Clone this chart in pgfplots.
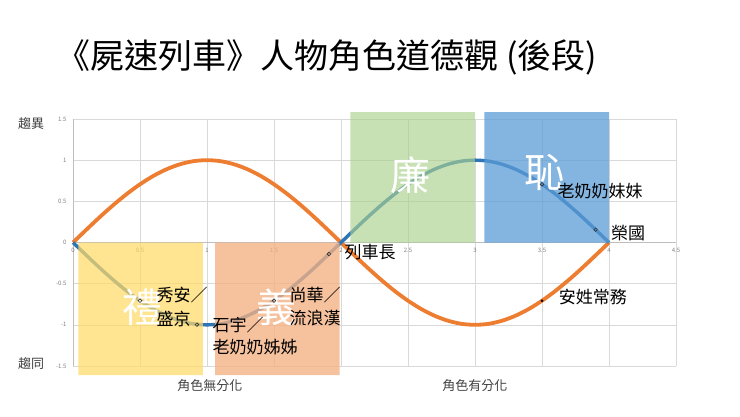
\documentclass[border=0pt]{standalone}
\usepackage{fontspec}
\setmainfont{Noto Sans CJK TC}
\usepackage{pgfplots}
\usepackage{pgfplotstable}
\pgfplotsset{compat=1.18}

\definecolor{lineorange}{HTML}{ED7D31}
\definecolor{lineblue}{HTML}{2E75B6}
\definecolor{boxyellow}{HTML}{FFD966}
\definecolor{boxorange}{HTML}{F4B183}
\definecolor{boxgreen}{HTML}{A9D18E}
\definecolor{boxblue}{HTML}{5B9BD5}
\definecolor{gridgray}{HTML}{D9D9D9}
\definecolor{textgray}{HTML}{404040}

% x, orange (道德觀), blue (角色)
\pgfplotstableread{
x    o       b
0.0  0.000   0.000
0.1  0.156  -0.156
0.2  0.309  -0.309
0.3  0.454  -0.454
0.4  0.588  -0.588
0.5  0.707  -0.707
0.6  0.809  -0.809
0.7  0.891  -0.891
0.8  0.951  -0.951
0.9  0.988  -0.988
1.0  1.000  -1.000
1.1  0.988  -0.988
1.2  0.951  -0.951
1.3  0.891  -0.891
1.4  0.809  -0.809
1.5  0.707  -0.707
1.6  0.588  -0.588
1.7  0.454  -0.454
1.8  0.309  -0.309
1.9  0.156  -0.156
2.0  0.000   0.000
2.1 -0.156   0.156
2.2 -0.309   0.309
2.3 -0.454   0.454
2.4 -0.588   0.588
2.5 -0.707   0.707
2.6 -0.809   0.809
2.7 -0.891   0.891
2.8 -0.951   0.951
2.9 -0.988   0.988
3.0 -1.000   1.000
3.1 -0.988   0.988
3.2 -0.951   0.951
3.3 -0.891   0.891
3.4 -0.809   0.809
3.5 -0.707   0.707
3.6 -0.588   0.588
3.7 -0.454   0.454
3.8 -0.309   0.309
3.9 -0.156   0.156
4.0  0.000   0.000
}\curves

\begin{document}
\begin{tikzpicture}
\begin{axis}[
    name=ax,
    scale only axis,
    width=603pt, height=247pt,
    xmin=0, xmax=4.5, ymin=-1.5, ymax=1.5,
    xtick={0,0.5,...,4.5}, ytick={-1.5,-1,...,1.5},
    axis x line=middle, axis y line=left,
    axis line style={-, draw=gridgray!70!gray, line width=0.6pt},
    hide obscured x ticks=false, hide obscured y ticks=false,
    major tick length=0pt,
    grid=major,
    major grid style={draw=gridgray, line width=0.6pt},
    /pgf/number format/assume math mode=true,
    tick label style={font=\fontsize{6}{7}\selectfont, text=gray},
    xticklabel style={anchor=north, yshift=-2pt},
    yticklabel style={anchor=east, xshift=-3pt},
    clip=false,
    every node/.style={inner sep=0pt},
]
% lines
\addplot[draw=lineorange, line width=3.8pt, smooth] table[x=x, y=o] {\curves};
\addplot[draw=lineblue, line width=3.4pt, smooth] table[x=x, y=b] {\curves};

% coloured blocks
\addplot[draw=none, fill=boxyellow, fill opacity=0.72] coordinates {(0.04,0) (0.97,0) (0.97,-1.61) (0.04,-1.61) (0.04,0)};
\addplot[draw=none, fill=boxorange, fill opacity=0.78] coordinates {(1.06,0) (1.99,0) (1.99,-1.61) (1.06,-1.61) (1.06,0)};
\addplot[draw=none, fill=boxgreen, fill opacity=0.65] coordinates {(2.07,0) (3.0,0) (3.0,1.585) (2.07,1.585) (2.07,0)};
\addplot[draw=none, fill=boxblue, fill opacity=0.75] coordinates {(3.07,0) (4.0,0) (4.0,1.585) (3.07,1.585) (3.07,0)};

% markers
\addplot[only marks, mark=o, mark size=1.8pt, mark options={draw=black!80, line width=0.6pt}] coordinates {(0.5,-0.707) (0.925,-0.997) (1.5,-0.707) (1.91,-0.14) (3.5,0.707) (3.9,0.156)};
\addplot[only marks, mark=*, mark size=1.1pt, black] coordinates {(3.5,-0.707)};

% big characters
\node[text=white, font=\fontsize{40}{44}\selectfont] at (axis cs:0.515,-0.79) {禮};
\node[text=white, font=\fontsize{40}{44}\selectfont] at (axis cs:1.52,-0.79) {義};
\node[text=white, font=\fontsize{40}{44}\selectfont] at (axis cs:2.52,0.814) {廉};
\node[text=white, font=\fontsize{40}{44}\selectfont] at (axis cs:3.52,0.85) {恥};

% character labels
\begin{scope}[every node/.append style={anchor=west, font=\fontsize{17}{19}\selectfont, text=black}]
\node at (axis cs:0.597,-0.644) {秀安／};
\node at (axis cs:0.597,-0.923) {盛京};
\node at (axis cs:1.015,-1.008) {石宇／};
\node at (axis cs:1.015,-1.275) {老奶奶姊姊};
\node at (axis cs:1.59,-0.644) {尚華／};
\node at (axis cs:1.59,-0.923) {流浪漢};
\node at (axis cs:2.0,-0.12) {列車長};
\node at (axis cs:3.59,0.62) {老奶奶妹妹};
\node at (axis cs:3.99,0.11) {榮國};
\node at (axis cs:3.60,-0.656) {安姓常務};
\end{scope}

% axis captions
\node[font=\fontsize{13}{15}\selectfont, text=textgray] at (axis cs:-0.313,1.445) {趨異};
\node[font=\fontsize{13}{15}\selectfont, text=textgray] at (axis cs:-0.313,-1.47) {趨同};
\node[font=\fontsize{13}{15}\selectfont, text=textgray] at (axis cs:1.022,-1.737) {角色無分化};
\node[font=\fontsize{13}{15}\selectfont, text=textgray] at (axis cs:3.0,-1.737) {角色有分化};

% title
\node[anchor=west, font=\fontsize{34}{37}\selectfont, text=black] at (axis cs:-0.15,2.247) {《屍速列車》人物角色道德觀 (後段)};
\end{axis}
\pgfresetboundingbox
\useasboundingbox ([xshift=-73pt,yshift=-50pt]ax.south west) rectangle ([xshift=667pt,yshift=366pt]ax.south west);
\end{tikzpicture}
\end{document}
